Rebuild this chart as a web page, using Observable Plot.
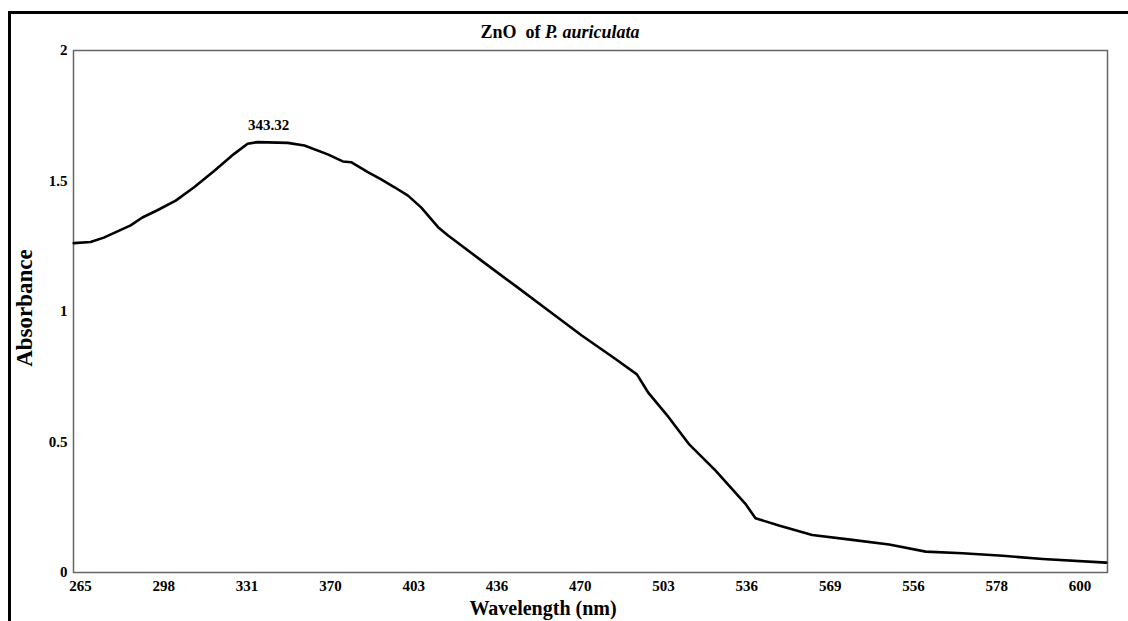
<!DOCTYPE html>
<html>
<head>
<meta charset="utf-8">
<script src="https://cdn.jsdelivr.net/npm/d3@7"></script>
<script src="https://cdn.jsdelivr.net/npm/@observablehq/plot@0.6"></script>
<style>
  body { margin: 0; background: #fff; }
  #wrap { position: relative; width: 1128px; height: 621px; overflow: hidden; font-family: "Liberation Serif", "DejaVu Serif", serif; }
  #chart { position: absolute; left: 0; top: 0; }
  #outer { position: absolute; left: 8px; top: 11px; width: 1200px; height: 700px; border-left: 3px solid #000; border-top: 3px solid #000; pointer-events: none; }
  #title { position: absolute; top: 22px; left: 560px; transform: translateX(-50%); font-weight: bold; font-size: 18px; white-space: nowrap; }
  #ylabel { position: absolute; left: 25px; top: 308px; transform: translate(-50%, -50%) rotate(-90deg); font-weight: bold; font-size: 23px; white-space: nowrap; }
  #xlabel { position: absolute; left: 543px; top: 597px; transform: translateX(-50%); font-weight: bold; font-size: 20px; line-height: 22px; white-space: nowrap; }
</style>
</head>
<body>
<div id="wrap">
  <div id="chart"></div>
  <div id="outer"></div>
  <div id="title">ZnO&nbsp; of <i>P. auriculata</i></div>
  <div id="ylabel">Absorbance</div>
  <div id="xlabel">Wavelength (nm)</div>
</div>
<script>
// Tick labels as printed on the x axis (evenly spaced categories)
const xTickLabels = ["265","298","331","370","403","436","470","503","536","569","556","578","600"];
const yTicks = [0, 0.5, 1, 1.5, 2];

// Curve: position along the tick sequence (0 = first label) and absorbance
const curvePos = [-0.081,0.120,0.280,0.602,0.743,0.923,1.143,1.364,1.604,1.845,2.006,2.127,2.488,2.688,2.969,3.149,3.249,3.450,3.610,3.770,3.932,4.092,4.293,4.413,4.573,4.814,5.215,5.617,6.018,6.419,6.680,6.821,7.061,7.302,7.622,7.983,8.104,8.385,8.785,9.266,9.708,10.148,10.590,11.071,11.552,12.314];
const curveAbs = [1.262,1.266,1.283,1.330,1.360,1.388,1.425,1.476,1.538,1.604,1.643,1.649,1.646,1.636,1.602,1.575,1.572,1.534,1.506,1.476,1.444,1.398,1.323,1.291,1.253,1.195,1.100,1.004,0.908,0.819,0.759,0.687,0.595,0.493,0.391,0.263,0.208,0.180,0.144,0.125,0.107,0.080,0.074,0.064,0.052,0.038];

const peakLabel = "343.32";
const peakPos = 2.26;
const peakAbs = 1.712;

const data = curvePos.map((p, i) => ({p, a: curveAbs[i]}));
const ticksIdx = xTickLabels.map((_, i) => i);

const plot = Plot.plot({
  width: 1128,
  height: 621,
  marginLeft: 73,
  marginRight: 21,
  marginTop: 50,
  marginBottom: 49,
  style: {background: "transparent", fontFamily: "'Liberation Serif', serif"},
  x: {domain: [-0.084, 12.33], axis: null},
  y: {domain: [0, 2], axis: null},
  marks: [
    Plot.axisX({ticks: ticksIdx, tickFormat: i => xTickLabels[i], tickSize: 0, tickPadding: 8, fontSize: 15, fontWeight: "bold", label: null}),
    Plot.axisY({ticks: yTicks, tickFormat: d => String(d), tickSize: 0, tickPadding: 6, fontSize: 15, fontWeight: "bold", label: null}),
    Plot.frame({stroke: "#666", strokeWidth: 1.5}),
    Plot.line(data, {x: "p", y: "a", stroke: "#000", strokeWidth: 2.6, curve: "linear"}),
    Plot.text([{p: peakPos, a: peakAbs, t: peakLabel}], {x: "p", y: "a", text: "t", fontSize: 15, fontWeight: "bold", fill: "#000"})
  ]
});
document.getElementById("chart").appendChild(plot);
</script>
</body>
</html>
